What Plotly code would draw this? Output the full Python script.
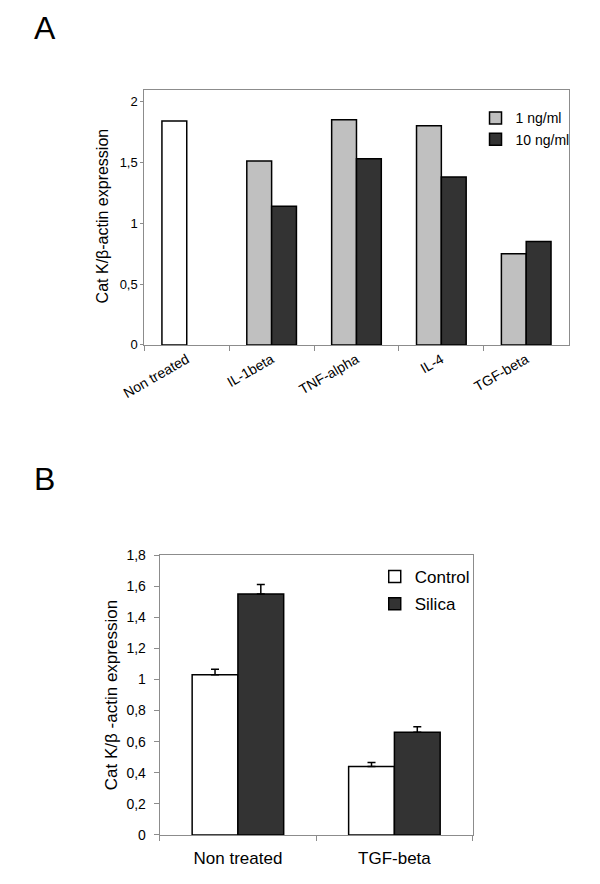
import plotly.graph_objects as go

# ---------------- Data ----------------
# Panel A
categories_a = ["Non treated", "IL-1beta", "TNF-alpha", "IL-4", "TGF-beta"]
treatments_a = ["IL-1beta", "TNF-alpha", "IL-4", "TGF-beta"]
non_treated_a = [1.84]
dose_1ng = [1.51, 1.85, 1.80, 0.75]
dose_10ng = [1.14, 1.53, 1.38, 0.85]
yticks_a = [0, 0.5, 1, 1.5, 2]
yticklabels_a = ["0", "0,5", "1", "1,5", "2"]

# Panel B
categories_b = ["Non treated", "TGF-beta"]
control_b = [1.03, 0.44]
control_err_b = [0.035, 0.025]
silica_b = [1.55, 0.66]
silica_err_b = [0.06, 0.035]
yticks_b = [0, 0.2, 0.4, 0.6, 0.8, 1.0, 1.2, 1.4, 1.6, 1.8]
yticklabels_b = ["0", "0,2", "0,4", "0,6", "0,8", "1", "1,2", "1,4", "1,6", "1,8"]

FONT = "Arial, Liberation Sans, Helvetica, sans-serif"
W, H = 600, 884
OFF = 8  # the page body margin shifts the figure by 8px
WHITE, LIGHT, DARK = "#FFFFFF", "#C0C0C0", "#333333"
FRAME = "#8C8C8C"
outline = dict(color="black", width=1.5)

fig = go.Figure()

# Panel A
fig.add_trace(go.Bar(x=["Non treated"], y=non_treated_a, offsetgroup="a1",
                     marker=dict(color=WHITE, line=outline), showlegend=False,
                     xaxis="x", yaxis="y"))
fig.add_trace(go.Bar(x=treatments_a, y=dose_1ng, name="1 ng/ml", offsetgroup="a1",
                     marker=dict(color=LIGHT, line=outline), legend="legend",
                     xaxis="x", yaxis="y"))
fig.add_trace(go.Bar(x=treatments_a, y=dose_10ng, name="10 ng/ml", offsetgroup="a2",
                     marker=dict(color=DARK, line=outline), legend="legend",
                     xaxis="x", yaxis="y"))

# Panel B
err_style = dict(type="data", symmetric=False, color="black", thickness=1.5, width=4)
fig.add_trace(go.Bar(x=categories_b, y=control_b, name="Control", offsetgroup="b1",
                     legendgroup="c", marker=dict(color=WHITE, line=outline), legend="legend2",
                     error_y=dict(array=control_err_b, arrayminus=[0] * len(control_b), **err_style),
                     xaxis="x2", yaxis="y2"))
fig.add_trace(go.Bar(x=categories_b, y=silica_b, name="Silica", offsetgroup="b2",
                     legendgroup="s", marker=dict(color=DARK, line=outline), legend="legend2",
                     error_y=dict(array=silica_err_b, arrayminus=[0] * len(silica_b), **err_style),
                     xaxis="x2", yaxis="y2"))

def px_x(v):
    return (v - OFF) / W

def px_y(v):
    return 1 - (v - OFF) / H

axis_common = dict(showline=True, linecolor=FRAME, linewidth=1, mirror=True,
                   showgrid=False, zeroline=False, ticks="outside", tickcolor=FRAME)

fig.update_layout(
    width=W, height=H,
    margin=dict(l=0, r=0, t=0, b=0),
    paper_bgcolor="white", plot_bgcolor="white",
    barmode="group", bargap=0.415, bargroupgap=0,
    font=dict(family=FONT, color="black"),
    xaxis=dict(domain=[px_x(125), px_x(567)], anchor="y",
               categoryorder="array", categoryarray=categories_a,
               tickson="boundaries", ticklen=5, tickangle=-30,
               tickfont=dict(family=FONT, size=14, color="black"), **axis_common),
    yaxis=dict(domain=[px_y(343), px_y(83)], anchor="x", range=[0, 2.097],
               tickvals=yticks_a, ticktext=yticklabels_a, ticklen=3,
               tickfont=dict(family=FONT, size=13, color="black"), **axis_common),
    xaxis2=dict(domain=[px_x(141), px_x(467)], anchor="y2",
                categoryorder="array", categoryarray=categories_b,
                tickson="boundaries", ticklen=5, ticklabelstandoff=8,
                tickfont=dict(family=FONT, size=17, color="black"), **axis_common),
    yaxis2=dict(domain=[px_y(842), px_y(557)], anchor="x2", range=[0, 1.8],
                tickvals=yticks_b, ticktext=yticklabels_b, ticklen=5, ticklabelstandoff=5,
                tickfont=dict(family=FONT, size=14, color="black"), **axis_common),
    legend=dict(x=px_x(470), y=px_y(96), xanchor="left", yanchor="top",
                bgcolor="rgba(0,0,0,0)", font=dict(family=FONT, size=14, color="black"),
                traceorder="normal"),
    legend2=dict(x=px_x(365), y=px_y(561), xanchor="left", yanchor="top",
                 bgcolor="rgba(0,0,0,0)", font=dict(family=FONT, size=17, color="black"),
                 traceorder="grouped", tracegroupgap=2),
    annotations=[
        dict(text="A", x=px_x(8), y=px_y(20.5), xref="paper", yref="paper",
             xanchor="left", yanchor="middle", showarrow=False,
             font=dict(family=FONT, size=32, color="black")),
        dict(text="B", x=px_x(8), y=px_y(480), xref="paper", yref="paper",
             xanchor="left", yanchor="middle", showarrow=False,
             font=dict(family=FONT, size=32, color="black")),
        dict(text="Cat K/β-actin expression", x=px_x(81), y=px_y(212),
             xref="paper", yref="paper", xanchor="center", yanchor="middle",
             textangle=-90, showarrow=False,
             font=dict(family=FONT, size=16, color="black")),
        dict(text="Cat K/β -actin expression", x=px_x(91), y=px_y(700),
             xref="paper", yref="paper", xanchor="center", yanchor="middle",
             textangle=-90, showarrow=False,
             font=dict(family=FONT, size=17, color="black")),
    ],
)

fig.write_html("out.html")
